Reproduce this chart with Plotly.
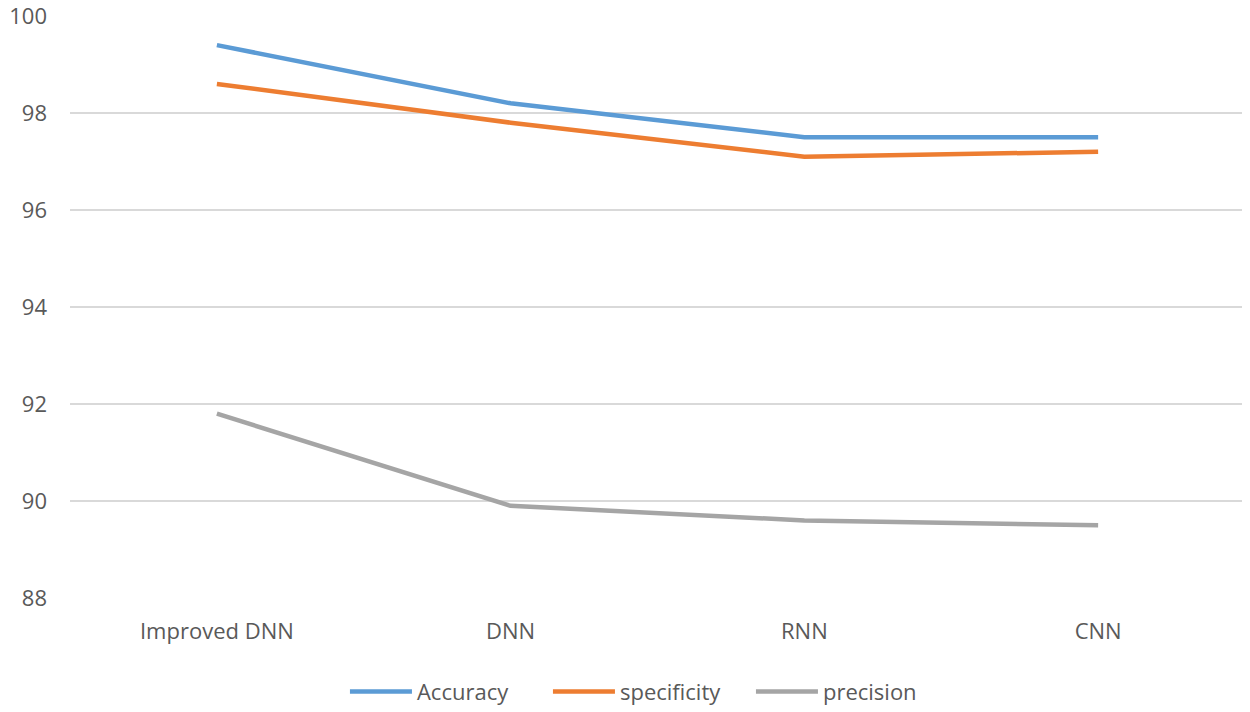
import plotly.graph_objects as go

categories = ["Improved DNN", "DNN", "RNN", "CNN"]
accuracy = [99.4, 98.2, 97.5, 97.5]
specificity = [98.6, 97.8, 97.1, 97.2]
precision = [91.8, 89.9, 89.6, 89.5]
y_ticks = [88, 90, 92, 94, 96, 98, 100]

fig = go.Figure()
for name, vals, col in [("Accuracy", accuracy, "#5B9BD5"),
                        ("specificity", specificity, "#ED7D31"),
                        ("precision", precision, "#A5A5A5")]:
    fig.add_trace(go.Scatter(x=categories, y=vals, mode="lines", name=name,
                             line=dict(color=col, width=4.5)))

fig.update_layout(
    width=1250, height=712,
    margin=dict(l=62, r=13, t=8, b=121),
    paper_bgcolor="white", plot_bgcolor="white",
    font=dict(family="Open Sans, Noto Sans, sans-serif", size=22, color="#595959"),
    showlegend=True,
    legend=dict(orientation="h", x=0.234, xanchor="left", y=-0.159, yanchor="middle",
                font=dict(size=22, color="#595959"), traceorder="normal",
                itemwidth=62, entrywidth=126, entrywidthmode="pixels"),
    xaxis=dict(type="category", range=[-0.5, 3.5], showgrid=False, showline=False,
               zeroline=False, ticks="", ticklabelstandoff=18, automargin=False,
               tickfont=dict(size=22, color="#595959")),
    yaxis=dict(range=[88, 100], tickvals=y_ticks, showgrid=True, gridcolor="#D9D9D9",
               gridwidth=1.5, zeroline=False, showline=False, ticks="", automargin=False,
               ticklabeloverflow="allow",
               ticklabelstandoff=22, tickfont=dict(size=22, color="#595959")),
)

fig.write_html("out.html")
